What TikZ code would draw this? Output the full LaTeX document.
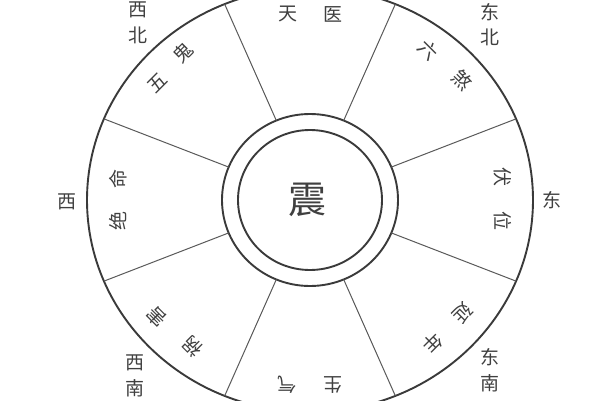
\documentclass[tikz,border=0pt]{standalone}
\usepackage{fontspec}
\newfontfamily\cjk{Noto Sans CJK SC}
\definecolor{ink}{HTML}{404040}
\definecolor{rule}{HTML}{3A3A3A}
\definecolor{thin}{HTML}{5A5A5A}
\tikzset{
  ch/.style={font=\cjk\fontsize{19}{19}\selectfont, text=ink, inner sep=0pt},
  dirch/.style={font=\cjk\fontsize{19}{19}\selectfont, text=ink, inner sep=0pt},
  bigch/.style={font=\cjk\fontsize{38}{38}\selectfont, text=ink, inner sep=0pt},
  outerline/.style={draw=rule, line width=1.9pt},
  ringline/.style={draw=rule, line width=1.9pt},
  divider/.style={draw=thin, line width=1pt},
}
\begin{document}
\begin{tikzpicture}[x=1pt,y=1pt]
\useasboundingbox (0,0) rectangle (600,400);
\fill[white] (0,0) rectangle (600,400);
\begin{scope}[shift={(310,200)}]
  % circles
  \coordinate (c) at (0,0);
  \draw[outerline] (c) ellipse [x radius=223, y radius=212];
  \draw[ringline] (c) ellipse [x radius=88, y radius=86];
  \draw[ringline] (c) ellipse [x radius=72, y radius=70];
  % dividers
  \foreach \k in {0,...,7}{
    \pgfmathsetmacro{\a}{22.5+45*\k}
    \coordinate (in\k) at (\a:88 and 86);
    \coordinate (out\k) at (\a:223 and 212);
    \draw[divider] (in\k) -- (out\k);
  }
  % centre
  \node[bigch] (zhen) at (-3,0) {震};
  % sector labels
  \node[ch] (tian) at (-22,186) {天};
  \node[ch] (yi)   at (23,186) {医};
  \node[ch, rotate=-45] (liu) at (118,150) {六};
  \node[ch, rotate=-45] (sha) at (152,120) {煞};
  \node[ch, rotate=-90] (fu)  at (193,23) {伏};
  \node[ch, rotate=-90] (wei) at (193,-21) {位};
  \node[ch, rotate=-135] (yan) at (153,-113) {延};
  \node[ch, rotate=-135] (nian) at (123,-143) {年};
  \node[ch, rotate=180] (sheng) at (23,-185) {生};
  \node[ch, rotate=180] (qi) at (-23,-185) {气};
  \node[ch, rotate=135] (huo) at (-117,-147) {祸};
  \node[ch, rotate=135] (hai) at (-153,-117) {害};
  \node[ch, rotate=90] (jue) at (-192,-21) {绝};
  \node[ch, rotate=90] (ming) at (-192,21) {命};
  \node[ch, rotate=45] (wu) at (-153,117) {五};
  \node[ch, rotate=45] (gui) at (-127,147) {鬼};
  % direction labels
  \node[dirch] (nwA) at (-172,190) {西};
  \node[dirch] (nwB) at (-172,165) {北};
  \node[dirch] (neA) at (180,188) {东};
  \node[dirch] (neB) at (180,163) {北};
  \node[dirch] (e)   at (242,0) {东};
  \node[dirch] (w)   at (-243,-2) {西};
  \node[dirch] (swA) at (-175,-163) {西};
  \node[dirch] (swB) at (-175,-188) {南};
  \node[dirch] (seA) at (180,-157) {东};
  \node[dirch] (seB) at (180,-183) {南};
\end{scope}
\end{tikzpicture}
\end{document}
